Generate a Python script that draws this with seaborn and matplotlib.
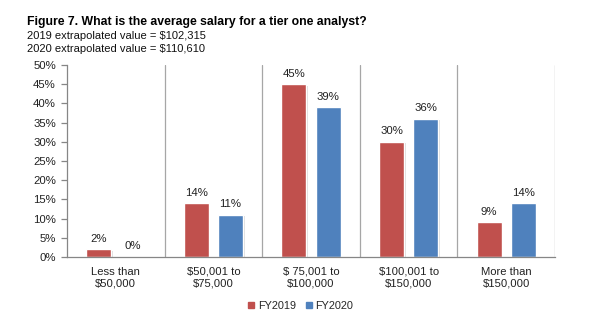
import matplotlib
matplotlib.use("Agg")
import matplotlib.pyplot as plt
import matplotlib.patheffects as pe
import seaborn as sns
import pandas as pd

categories = ["Less than\n$50,000", "$50,001 to\n$75,000", "$ 75,001 to\n$100,000",
              "$100,001 to\n$150,000", "More than\n$150,000"]
fy2019 = [2, 14, 45, 30, 9]
fy2020 = [0, 11, 39, 36, 14]
series_names = ["FY2019", "FY2020"]
colors = ["#C0504D", "#4F81BD"]
yticks = [0, 5, 10, 15, 20, 25, 30, 35, 40, 45, 50]

df = pd.DataFrame({
    "cat": categories * 2,
    "val": fy2019 + fy2020,
    "series": [series_names[0]] * 5 + [series_names[1]] * 5,
})

sns.set_theme(style="white")
plt.rcParams["font.family"] = ["Liberation Sans", "DejaVu Sans"]

fig = plt.figure(figsize=(6, 3.28), dpi=100)
ax = fig.add_axes([0.1117, 0.2165, 0.925 - 0.1117, 0.8018 - 0.2165])

sns.barplot(data=df, x="cat", y="val", hue="series", order=categories,
            hue_order=series_names, palette=colors, width=0.7, gap=0.27,
            ax=ax, legend=False, saturation=1)

for p in ax.patches:
    p.set_path_effects([pe.SimplePatchShadow(offset=(1.2, -1.2), shadow_rgbFace="#999999", alpha=0.35),
                        pe.Normal()])

for cont in ax.containers:
    ax.bar_label(cont, labels=[f"{int(v)}%" for v in cont.datavalues],
                 padding=4, fontsize=8.2, color="#222222")

ax.set_ylim(0, 50)
ax.set_xlim(-0.5, 4.5)
ax.set_yticks(yticks)
ax.set_yticklabels([f"{v}%" for v in yticks], fontsize=8.2, color="#222222")
ax.set_xticks(range(5))
ax.set_xticklabels(categories, fontsize=8.1, color="#222222", linespacing=1.2)
ax.set_xlabel("")
ax.set_ylabel("")

for b in [0.5, 1.5, 2.5, 3.5, 4.5]:
    ax.axvline(b, color="#A6A6A6", lw=0.9, zorder=0)
ax.set_xticks([-0.5, 0.5, 1.5, 2.5, 3.5, 4.5], minor=True)
ax.tick_params(axis="x", which="major", length=0, pad=7)
ax.tick_params(axis="x", which="minor", length=4, color="#868686", width=0.9)
ax.tick_params(axis="y", length=4, color="#868686", width=0.9, left=True, pad=4)

for s in ["top", "right"]:
    ax.spines[s].set_visible(False)
for s in ["left", "bottom"]:
    ax.spines[s].set_color("#868686")
    ax.spines[s].set_linewidth(0.9)

fig.text(0.045, 0.925, "Figure 7. What is the average salary for a tier one analyst?",
         fontsize=8.8, fontweight="bold", color="#000000")
fig.text(0.045, 0.88, "2019 extrapolated value = $102,315", fontsize=8.05, color="#111111")
fig.text(0.045, 0.84, "2020 extrapolated value = $110,610", fontsize=8.05, color="#111111")

handles = [plt.Line2D([], [], marker="s", linestyle="", color=c, markersize=4.5) for c in colors]
fig.legend(handles, series_names, loc="center", bbox_to_anchor=(0.5, 0.068), ncol=2,
           frameon=False, fontsize=7.8, handletextpad=0.2, columnspacing=0.8,
           handlelength=0.8)

fig.savefig("out.png", dpi=100)
